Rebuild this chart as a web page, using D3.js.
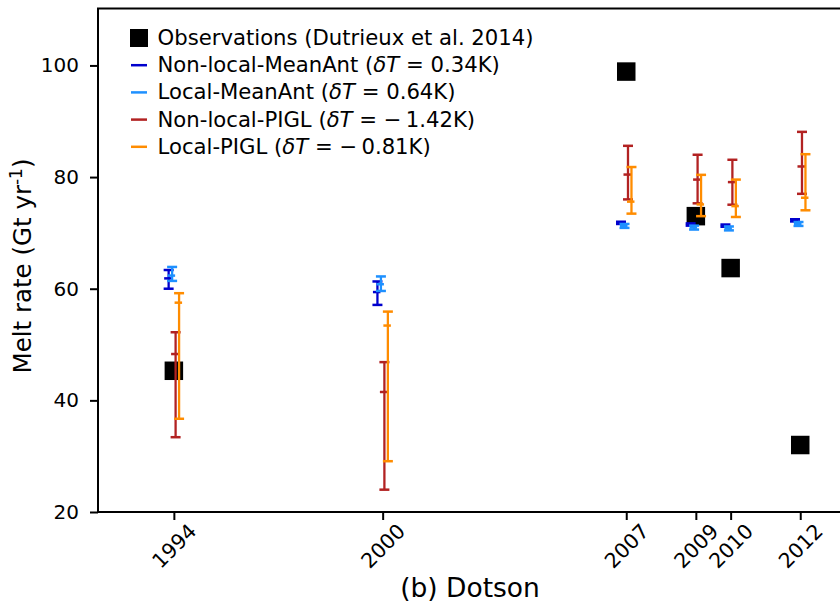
<!DOCTYPE html>
<html>
<head>
<meta charset="utf-8">
<script src="https://cdn.jsdelivr.net/npm/d3@7"></script>
<style>
    body { margin: 0; background: #fff; }
    svg { display: block; font-family: "DejaVu Sans", sans-serif; }
</style>
</head>
<body>
<div id="chart"></div>
<script>
// years on the x axis and the observation squares
const years = [1994, 2000, 2007, 2009, 2010, 2012];
const obsYears = [1994, 2007, 2009, 2010, 2012];
const obsValues = [45.3, 98.9, 73.0, 63.7, 32.0];
const yTicks = [20, 40, 60, 80, 100];

// model series: centre value and range (low / high) per year
const nonLocalMeanAntMid = [61.85, 59.4, 71.8, 71.5, 71.3, 72.25];
const nonLocalMeanAntLow = [60.0, 57.1, 71.6, 71.3, 71.1, 72.05];
const nonLocalMeanAntHigh = [63.35, 61.3, 72.0, 71.7, 71.5, 72.45];

const localMeanAntMid = [62.35, 60.8, 71.25, 70.95, 70.8, 71.6];
const localMeanAntLow = [61.4, 59.6, 70.9, 70.6, 70.45, 71.25];
const localMeanAntHigh = [63.9, 62.2, 71.6, 71.3, 71.15, 71.95];

const nonLocalPIGLMid = [48.3, 41.5, 80.45, 79.55, 79.1, 81.9];
const nonLocalPIGLLow = [33.4, 24.0, 76.0, 75.3, 75.05, 77.0];
const nonLocalPIGLHigh = [52.2, 46.85, 85.6, 84.0, 83.1, 88.1];

const localPIGLMid = [57.5, 53.4, 75.6, 75.1, 74.8, 76.3];
const localPIGLLow = [36.7, 29.1, 73.45, 73.0, 72.85, 74.05];
const localPIGLHigh = [59.2, 55.9, 81.8, 80.4, 79.55, 84.1];

const seriesNames = ["Non-local-MeanAnt", "Local-MeanAnt", "Non-local-PIGL", "Local-PIGL"];
const seriesDeltaT = ["0.34", "0.64", "\u2212\u20091.42", "\u2212\u20090.81"];
const seriesColors = ["#0000cd", "#1e90ff", "#b22222", "#ff8c00"];
const seriesOffsets = [-0.15, -0.05, 0.05, 0.15];

const series = [
    { mid: nonLocalMeanAntMid, low: nonLocalMeanAntLow, high: nonLocalMeanAntHigh },
    { mid: localMeanAntMid, low: localMeanAntLow, high: localMeanAntHigh },
    { mid: nonLocalPIGLMid, low: nonLocalPIGLLow, high: nonLocalPIGLHigh },
    { mid: localPIGLMid, low: localPIGLLow, high: localPIGLHigh }
];

// layout
const W = 840, H = 604;
const plot = { left: 98, right: 842, top: 8.5, bottom: 512 };

const svg = d3.select("#chart").append("svg")
    .attr("width", W)
    .attr("height", H);

const x = d3.scaleLinear().domain([1991.82, 2013.2]).range([plot.left, plot.right]);
const y = d3.scaleLinear().domain([20, 110.2]).range([plot.bottom, plot.top]);

// observations first, error bars go on top of them
const sq = 18.5;
svg.append("g").selectAll("rect")
    .data(obsYears).enter()
    .append("rect")
    .attr("x", (d, i) => x(d) - sq / 2)
    .attr("y", (d, i) => y(obsValues[i]) - sq / 2)
    .attr("width", sq)
    .attr("height", sq)
    .attr("fill", "#000");

// error bars
series.forEach((s, k) => {
    const g = svg.append("g")
        .attr("stroke", seriesColors[k])
        .attr("stroke-width", 2.3)
        .attr("fill", "none");
    years.forEach((yr, i) => {
        const cx = x(yr + seriesOffsets[k]);
        g.append("line")
            .attr("x1", cx).attr("x2", cx)
            .attr("y1", y(s.low[i])).attr("y2", y(s.high[i]));
        [s.low[i], s.high[i]].forEach(v => {
            g.append("line")
                .attr("x1", cx - 5).attr("x2", cx + 5)
                .attr("y1", y(v)).attr("y2", y(v))
                .attr("stroke-width", 2.5);
        });
        g.append("line")
            .attr("x1", cx - 4.5).attr("x2", cx + 3)
            .attr("y1", y(s.mid[i])).attr("y2", y(s.mid[i]))
            .attr("stroke-width", 2.5);
    });
});

// frame
svg.append("rect")
    .attr("x", plot.left).attr("y", plot.top)
    .attr("width", plot.right - plot.left)
    .attr("height", plot.bottom - plot.top)
    .attr("fill", "none")
    .attr("stroke", "#000")
    .attr("stroke-width", 2);

// y axis
const yAxis = svg.append("g")
    .attr("transform", "translate(" + plot.left + ",0)")
    .call(d3.axisLeft(y).tickValues(yTicks).tickSize(8).tickPadding(11));
yAxis.select(".domain").remove();
yAxis.selectAll(".tick line").attr("stroke-width", 2);
yAxis.selectAll(".tick text")
    .attr("font-size", 20)
    .attr("font-family", "DejaVu Sans")
    .attr("fill", "#000");

// x axis, labels turned 45 degrees
const xAxis = svg.append("g")
    .attr("transform", "translate(0," + plot.bottom + ")")
    .call(d3.axisBottom(x).tickValues(years).tickFormat(d3.format("d")).tickSize(8));
xAxis.select(".domain").remove();
xAxis.selectAll(".tick line").attr("stroke-width", 2);
xAxis.selectAll(".tick text")
    .attr("font-size", 20.5)
    .attr("font-family", "DejaVu Sans")
    .attr("fill", "#000")
    .attr("y", 0).attr("dy", null)
    .attr("text-anchor", "middle")
    .attr("dominant-baseline", "central")
    .attr("transform", "translate(0,34) rotate(-45)");

// axis titles
svg.append("text")
    .attr("x", 470).attr("y", 597)
    .attr("text-anchor", "middle")
    .attr("font-size", 26.5)
    .text("(b) Dotson");

const yLabel = svg.append("text")
    .attr("transform", "translate(31,266) rotate(-90)")
    .attr("text-anchor", "middle")
    .attr("font-size", 24.5);
yLabel.append("tspan").text("Melt rate (Gt yr");
yLabel.append("tspan").attr("font-size", 17).attr("dy", -9).text("-1");
yLabel.append("tspan").attr("dy", 9).text(")");

// legend
const legend = svg.append("g").attr("font-size", 21.2);
const rowY = d => 45 + d * 27.2;
legend.append("rect")
    .attr("x", 130).attr("y", rowY(0) - 7 - 9)
    .attr("width", 18).attr("height", 18)
    .attr("fill", "#000");
legend.append("text")
    .attr("x", 157.5).attr("y", rowY(0))
    .text("Observations (Dutrieux et al. 2014)");
seriesNames.forEach((name, k) => {
    legend.append("line")
        .attr("x1", 131).attr("x2", 147)
        .attr("y1", rowY(k + 1) - 7).attr("y2", rowY(k + 1) - 7)
        .attr("stroke", seriesColors[k])
        .attr("stroke-width", 2.5);
    const t = legend.append("text")
        .attr("x", 157.5).attr("y", rowY(k + 1));
    t.append("tspan").text(name + " (");
    t.append("tspan").attr("font-style", "italic").text("\u03b4T");
    t.append("tspan").text(" = " + seriesDeltaT[k] + "K)");
});
</script>
</body>
</html>
